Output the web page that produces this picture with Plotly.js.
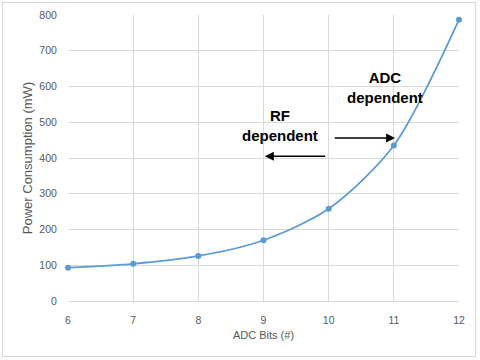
<!DOCTYPE html>
<html><head><meta charset="utf-8">
<script src="https://cdn.plot.ly/plotly-3.0.1.min.js"></script>
<style>
html,body{margin:0;padding:0;background:#fff;}
#wrap{position:relative;width:480px;height:360px;}
#chart{width:480px;height:360px;}
#frame{position:absolute;left:2px;top:2px;width:472px;height:353px;border:1px solid #d9d9d9;pointer-events:none;}
</style></head>
<body>
<div id="wrap"><div id="chart"></div><div id="frame"></div></div>
<script>
const adcBits = [6, 7, 8, 9, 10, 11, 12];
const powerMW = [93, 104, 126, 170, 258, 435, 787];
const xTicks = [6, 7, 8, 9, 10, 11, 12];
const yTicks = [0, 100, 200, 300, 400, 500, 600, 700, 800];
const labelADC = '<b>ADC<br>dependent</b>';
const labelRF = '<b>RF<br>dependent</b>';

const trace = {
  x: adcBits, y: powerMW, type: 'scatter', mode: 'lines+markers',
  line: {shape: 'spline', smoothing: 0.8, color: '#5b9bd5', width: 1.75},
  marker: {color: '#5b9bd5', size: 6},
  cliponaxis: false, hoverinfo: 'none'
};
const tickFont = {family: 'Liberation Sans, Arial, sans-serif', size: 10.5, color: '#595959'};
const annFont = {family: 'Liberation Sans, Arial, sans-serif', size: 15, color: '#000'};
const layout = {
  width: 480, height: 360,
  margin: {l: 68, r: 21, t: 15, b: 59},
  paper_bgcolor: '#fff', plot_bgcolor: '#fff',
  showlegend: false,
  xaxis: {range: [6, 12], tickvals: xTicks, ticktext: xTicks.map(String),
    showgrid: true, gridcolor: '#d9d9d9', gridwidth: 1,
    showline: true, linecolor: '#d9d9d9', zeroline: false,
    ticks: 'outside', ticklen: 9, tickcolor: 'rgba(0,0,0,0)',
    tickfont: tickFont,
    title: {text: 'ADC Bits (#)', font: {family: 'Liberation Sans, Arial, sans-serif', size: 11, color: '#595959'}, standoff: 6}},
  yaxis: {range: [0, 800], tickvals: yTicks, ticktext: yTicks.map(String),
    showgrid: true, gridcolor: '#d9d9d9', gridwidth: 1,
    showline: false, zeroline: false,
    ticks: 'outside', ticklen: 8, tickcolor: 'rgba(0,0,0,0)', tickfont: tickFont,
    title: {text: 'Power Consumption (mW)', font: {family: 'Liberation Sans, Arial, sans-serif', size: 13, color: '#595959'}, standoff: 3}},
  annotations: [
    {x: 10.86, y: 596, xref: 'x', yref: 'y', text: labelADC, showarrow: false, font: annFont, align: 'center'},
    {x: 9.25, y: 492, xref: 'x', yref: 'y', text: labelRF, showarrow: false, font: annFont, align: 'center'},
    {x: 11.02, y: 456, ax: 10.07, ay: 456, xref: 'x', yref: 'y', axref: 'x', ayref: 'y', text: '', showarrow: true, arrowhead: 2, arrowsize: 1.2, arrowwidth: 1.5, arrowcolor: '#000'},
    {x: 9.02, y: 405, ax: 9.97, ay: 405, xref: 'x', yref: 'y', axref: 'x', ayref: 'y', text: '', showarrow: true, arrowhead: 2, arrowsize: 1.2, arrowwidth: 1.5, arrowcolor: '#000'}
  ]
};
Plotly.newPlot('chart', [trace], layout, {staticPlot: true, displayModeBar: false});
</script>
</body></html>
